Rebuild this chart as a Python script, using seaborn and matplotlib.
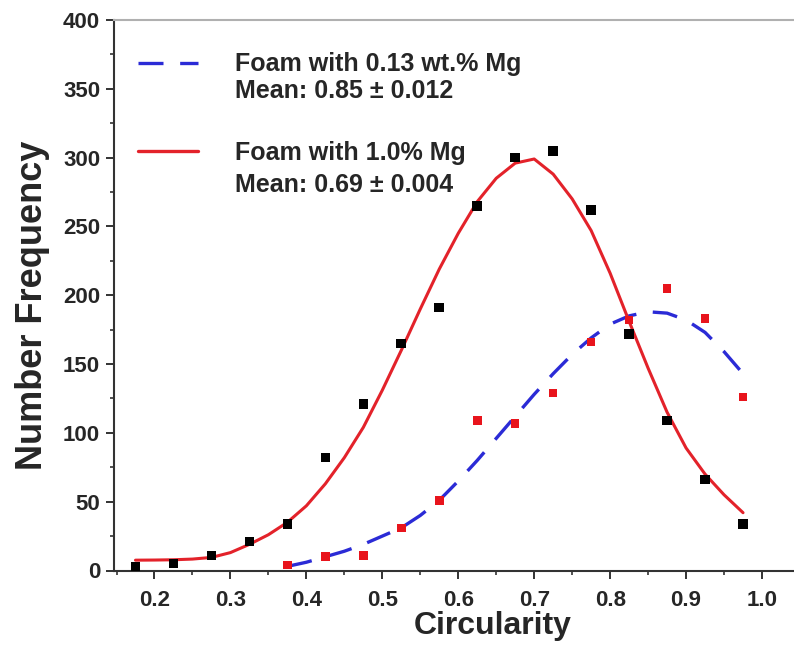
import matplotlib
matplotlib.use("Agg")
import matplotlib.pyplot as plt
from matplotlib.lines import Line2D
from matplotlib.ticker import MultipleLocator, FormatStrFormatter
import seaborn as sns

# ---- data ----
bins_10 = [0.175, 0.225, 0.275, 0.325, 0.375, 0.425, 0.475, 0.525, 0.575,
           0.625, 0.675, 0.725, 0.775, 0.825, 0.875, 0.925, 0.975]
freq_10 = [3, 5, 11, 21, 34, 82, 121, 165, 191, 265, 300, 305, 262, 172, 109, 66, 34]

bins_013 = [0.375, 0.425, 0.475, 0.525, 0.575, 0.625, 0.675, 0.725, 0.775,
            0.825, 0.875, 0.925, 0.975]
freq_013 = [4, 10, 11, 31, 51, 109, 107, 129, 166, 182, 205, 183, 126]

fit_x_10 = [0.175, 0.2, 0.225, 0.25, 0.275, 0.3, 0.325, 0.35, 0.375, 0.4, 0.425,
            0.45, 0.475, 0.5, 0.525, 0.55, 0.575, 0.6, 0.625, 0.65, 0.675, 0.7,
            0.725, 0.75, 0.775, 0.8, 0.825, 0.85, 0.875, 0.9, 0.925, 0.95, 0.975]
fit_y_10 = [7.5, 7.6, 7.8, 8.3, 9.5, 13, 19, 26, 35, 47, 63, 82, 104, 131, 160,
            190, 219, 245, 268, 285, 296, 299, 288, 270, 247, 216, 181, 147, 115,
            89, 70, 55, 42]

fit_x_013 = [0.375, 0.4, 0.425, 0.45, 0.475, 0.5, 0.525, 0.55, 0.575, 0.6, 0.625,
             0.65, 0.675, 0.7, 0.725, 0.75, 0.775, 0.8, 0.825, 0.85, 0.875, 0.9,
             0.925, 0.95, 0.975]
fit_y_013 = [3, 6, 10, 14, 19, 25, 31, 40, 51, 65, 80, 96, 112, 128, 143, 157, 169,
             179, 185, 188, 187, 182, 173, 159, 143]

x_ticks = [0.2, 0.3, 0.4, 0.5, 0.6, 0.7, 0.8, 0.9, 1.0]
label_013 = ["Foam with 0.13 wt.% Mg", "Mean: 0.85 \u00b1 0.012"]
label_10 = ["Foam with 1.0% Mg", "Mean: 0.69 \u00b1 0.004"]
xlabel = "Circularity"
ylabel = "Number Frequency"

# ---- style ----
sns.set_theme(style="ticks")
plt.rcParams["font.family"] = ["Liberation Sans", "DejaVu Sans"]
plt.rcParams["font.weight"] = "bold"
plt.rcParams["axes.labelweight"] = "bold"
TXT = "#262626"
RED = "#e3222a"
BLUE = "#2b2bd6"

fig = plt.figure(figsize=(7.94, 6.64), dpi=100)
ax = fig.add_axes([114 / 794, 93.5 / 664, 680 / 794, 550.5 / 664])

dash = (0, (7.5, 5))
sns.lineplot(x=fit_x_013, y=fit_y_013, ax=ax, color=BLUE, linewidth=2.4,
             linestyle=dash, zorder=3)
sns.lineplot(x=fit_x_10, y=fit_y_10, ax=ax, color=RED, linewidth=2.2, zorder=3)
sns.scatterplot(x=bins_013, y=freq_013, ax=ax, marker="s", s=38, color="#e8141c",
                edgecolor="none", linewidth=0, zorder=4)
sns.scatterplot(x=bins_10, y=freq_10, ax=ax, marker="s", s=48, color="black",
                edgecolor="none", linewidth=0, zorder=5)

ax.set_xlim(0.1467, 1.0421)
ax.set_ylim(0, 400)
ax.set_xticks(x_ticks)
ax.xaxis.set_major_formatter(FormatStrFormatter("%.1f"))
ax.xaxis.set_minor_locator(MultipleLocator(0.05))
ax.yaxis.set_major_locator(MultipleLocator(50))
ax.yaxis.set_minor_locator(MultipleLocator(25))

ax.tick_params(axis="both", which="major", direction="out", length=6, width=1.4,
               color="#333333", labelsize=16, labelcolor=TXT)
ax.tick_params(axis="both", which="minor", direction="out", length=3, width=1.2,
               color="#333333")
ax.tick_params(axis="x", which="major", pad=8)
ax.tick_params(axis="y", which="major", pad=4)

for s in ["left", "bottom"]:
    ax.spines[s].set_color("#333333")
    ax.spines[s].set_linewidth(1.5)
ax.spines["top"].set_color("#b0b0b0")
ax.spines["top"].set_linewidth(1.5)
ax.spines["right"].set_visible(False)

ax.set_xlabel(xlabel, fontsize=23, color=TXT)
ax.set_ylabel(ylabel, fontsize=26, color=TXT)
ax.xaxis.set_label_coords(0.557, -0.073)
ax.yaxis.set_label_coords(-0.094, 0.482)

prop = {"weight": "bold", "size": 18}
h1 = [Line2D([], [], color=BLUE, linewidth=2.4, linestyle=dash),
      Line2D([], [], color="none")]
leg1 = ax.legend(h1, label_013, loc="upper left", bbox_to_anchor=(0.035, 0.941),
                 frameon=False, borderpad=0, borderaxespad=0, handlelength=2.4,
                 handletextpad=1.48, labelspacing=0.12, prop=prop, labelcolor=TXT)
ax.add_artist(leg1)
h2 = [Line2D([], [], color=RED, linewidth=2.4), Line2D([], [], color="none")]
ax.legend(h2, label_10, loc="upper left", bbox_to_anchor=(0.035, 0.781),
          frameon=False, borderpad=0, borderaxespad=0, handlelength=2.4,
          handletextpad=1.48, labelspacing=0.35, prop=prop, labelcolor=TXT)

fig.savefig("out.png", dpi=100)
